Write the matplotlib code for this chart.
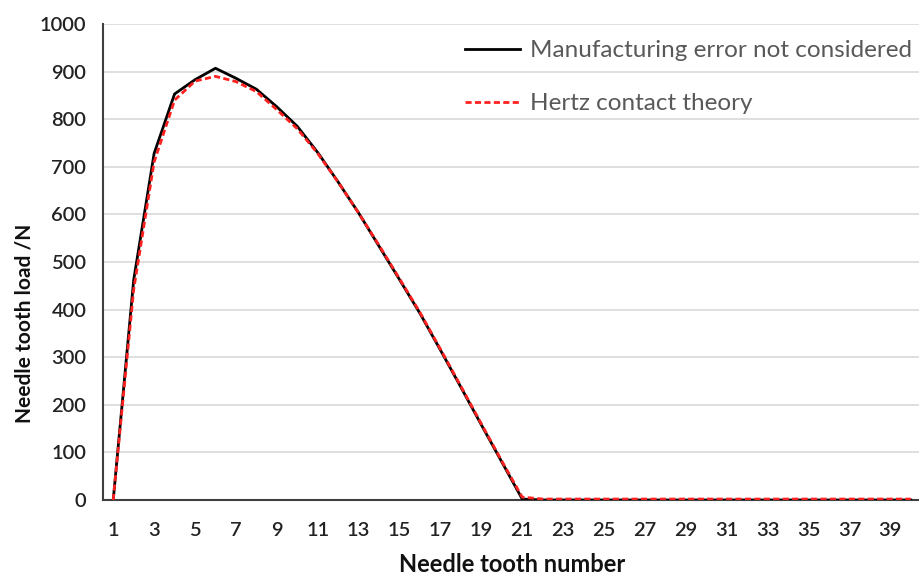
import matplotlib
matplotlib.use("Agg")
import matplotlib.pyplot as plt

teeth = list(range(1, 41))
no_error = [0, 462, 728, 853, 883, 907, 886, 863, 826, 785,
            730, 668, 603, 533, 463, 392, 315, 237, 158, 80,
            2] + [0] * 19
hertz = [0, 442, 710, 840, 880, 890, 879, 858, 820, 780,
         728, 668, 603, 535, 465, 394, 317, 239, 160, 82,
         6] + [2] * 19

y_ticks = list(range(0, 1001, 100))
x_ticks = list(range(1, 40, 2))

plt.rcParams['font.family'] = ['Lato', 'DejaVu Sans']

fig = plt.figure(figsize=(9.2, 5.77), dpi=100)
ax = fig.add_axes([103 / 920, 1 - 500 / 577, 818 / 920, 476 / 577])

ax.plot(teeth, no_error, color='black', lw=2.0, label='Manufacturing error not considered', zorder=3)
ax.plot(teeth, hertz, color='#ff2020', lw=2.0, ls=(0, (2.2, 1.2)), label='Hertz contact theory', zorder=4)

ax.set_xlim(0.5, 40.5)
ax.set_ylim(0, 1000)
ax.set_yticks(y_ticks)
ax.set_xticks(x_ticks)
ax.yaxis.grid(True, color='#d9d9d9', lw=1.2)
ax.set_axisbelow(True)
ax.tick_params(axis='both', length=0, labelsize=14.5, labelcolor='#222222')
ax.tick_params(axis='x', pad=16)
ax.tick_params(axis='y', pad=12)
for lab in ax.get_xticklabels() + ax.get_yticklabels():
    lab.set_fontweight('semibold')
for s in ['top', 'right']:
    ax.spines[s].set_visible(False)
ax.spines['left'].set_color('#404040')
ax.spines['left'].set_linewidth(1.5)
ax.spines['bottom'].set_color('#404040')
ax.spines['bottom'].set_linewidth(1.5)
ax.spines['left'].set_zorder(5)
ax.spines['bottom'].set_zorder(2)

ax.set_xlabel('Needle tooth number', fontsize=17, fontweight='bold', color='#111111', labelpad=10)
ax.set_ylabel('Needle tooth load /N', fontsize=15, fontweight='bold', color='#111111', labelpad=4)
ax.yaxis.label.set_y(0.372)

leg = ax.legend(loc='upper left', bbox_to_anchor=(465 / 920, 1 - 40 / 577), bbox_transform=fig.transFigure,
                frameon=False, fontsize=17.5, labelcolor='#595959', handlelength=2.26,
                handletextpad=0.42, labelspacing=1.33, borderaxespad=0, borderpad=0)

fig.savefig('out.png', dpi=100)
